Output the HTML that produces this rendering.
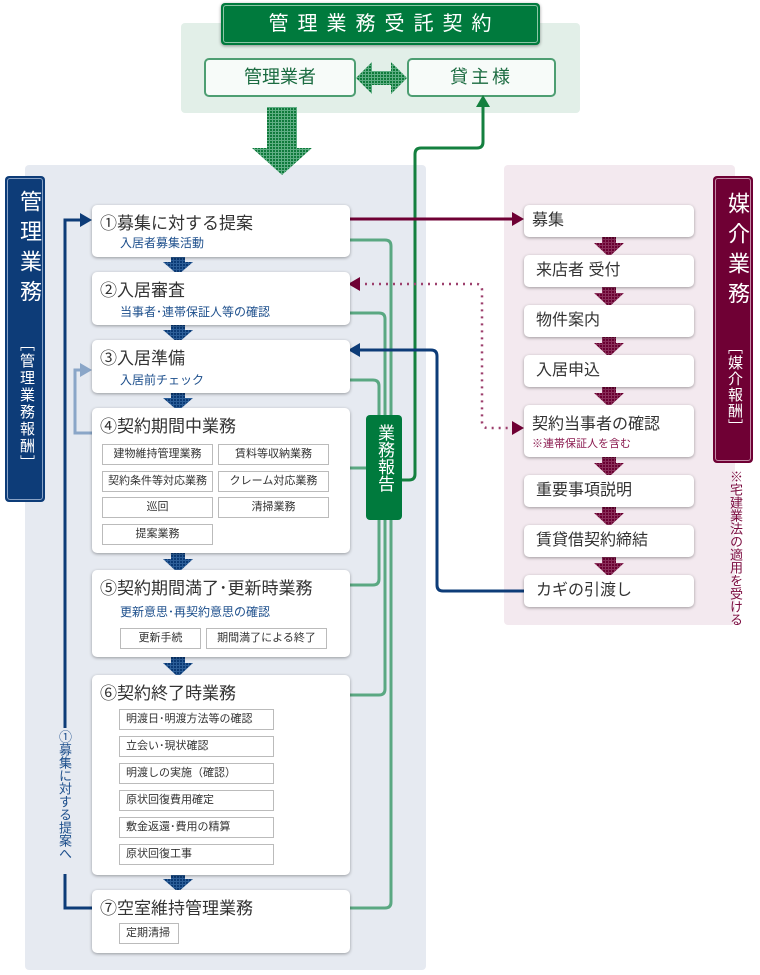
<!DOCTYPE html>
<html><head><meta charset="utf-8"><style>
*{margin:0;padding:0;box-sizing:border-box}
body{width:760px;height:975px;background:#fff;position:relative;overflow:hidden;font-family:"Liberation Sans","Noto Sans CJK JP",sans-serif;color:#333}
.a{position:absolute}
.box{position:absolute;background:#fff;border-radius:5px;box-shadow:0 1px 3px rgba(0,0,0,.35)}
.t{position:absolute;left:8px;top:4px;font-size:17px;white-space:nowrap}
.s{position:absolute;left:28px;font-size:12px;color:#1d4f8c;white-space:nowrap}
.sb{position:absolute;border:1px solid #bbb;background:#fff;font-size:11px;text-align:center;line-height:19px;white-space:nowrap}
.sl{text-align:left;padding-left:6px}
.rb{position:absolute;left:524px;width:170px;background:#fff;border-radius:5px;box-shadow:0 1px 3px rgba(0,0,0,.35);font-size:16px;padding-left:12px;line-height:32px}
.v{writing-mode:vertical-rl;text-orientation:upright}
</style></head><body>
<div class="a" style="left:181px;top:23px;width:399px;height:90px;background:#e2efe8;border-radius:4px"></div>
<div class="a" style="left:25px;top:165px;width:401px;height:805px;background:#e6eaf1;border-radius:4px"></div>
<div class="a" style="left:504px;top:165px;width:231px;height:460px;background:#f3e9ef;border-radius:4px"></div>

<div class="a" style="left:221px;top:3px;width:319px;height:42px;background:#007a3d;border-radius:4px;box-shadow:0 1px 3px rgba(0,0,0,.4)"><div style="position:absolute;inset:2px;border:1px solid #8cc6a6;border-radius:3px;color:#fff;font-size:20px;text-align:center;line-height:36px;letter-spacing:9px;padding-left:8px">管理業務受託契約</div></div>
<div class="a" style="left:204px;top:58px;width:152px;height:39px;background:#f7fbf9;border:2px solid #4d9e72;border-radius:5px;color:#1a6b40;font-size:18px;text-align:center;line-height:35px">管理業者</div>
<div class="a" style="left:407px;top:58px;width:149px;height:39px;background:#f7fbf9;border:2px solid #4d9e72;border-radius:5px;color:#1a6b40;font-size:18px;text-align:center;line-height:35px;letter-spacing:3px">貸主様</div>

<div class="a" style="left:5px;top:176px;width:40px;height:326px;background:#0d3c78;border-radius:4px"><div style="position:absolute;inset:2px;border:1px solid #8aa3c6;border-radius:3px"></div>
<div class="a v" style="left:8px;top:14px;color:#fff;font-size:22px;letter-spacing:8px">管理業務</div>
<div class="a v" style="left:11px;top:160px;color:#fff;font-size:15px;letter-spacing:2px">［管理業務報酬］</div></div>
<div class="a" style="left:713px;top:176px;width:40px;height:287px;background:#6f0034;border-radius:4px"><div style="position:absolute;inset:2px;border:1px solid #c28aa5;border-radius:3px"></div>
<div class="a v" style="left:8px;top:16px;color:#fff;font-size:22px;letter-spacing:8px">媒介業務</div>
<div class="a v" style="left:11px;top:163px;color:#fff;font-size:15px;letter-spacing:1px">［媒介報酬］</div></div>
<div class="a v" style="left:727px;top:470px;color:#7a0a3e;font-size:13px;line-height:16px">※宅建業法の適用を受ける</div>

<svg class="a" style="left:0;top:0" width="760" height="975">
<defs>
<pattern id="dg" width="3" height="3" patternUnits="userSpaceOnUse"><rect width="3" height="3" fill="#5fae84"/><rect width="2" height="2" fill="#0f7a3b"/></pattern>
<pattern id="db" width="3" height="3" patternUnits="userSpaceOnUse"><rect width="3" height="3" fill="#2d5f99"/><rect width="2" height="2" fill="#0b3a75"/></pattern>
<pattern id="dm" width="3" height="3" patternUnits="userSpaceOnUse"><rect width="3" height="3" fill="#8a2f5a"/><rect width="2" height="2" fill="#6a0031"/></pattern>
</defs>
<polygon points="356,78 372,62 372,71 391,71 391,62 407,78 391,94 391,85 372,85 372,94" fill="url(#dg)"/>
<polygon points="267,107 297,107 297,148 312,148 282,175 252,148 267,148" fill="url(#dg)"/>
<g fill="none" stroke-width="3">
<path d="M350,240 H385 q6,0 6,6 V902 q0,6 -6,6 H350" stroke="#5aa882"/>
<path d="M350,313 H379 q6,0 6,6 V689 q0,6 -6,6 H350" stroke="#5aa882"/>
<path d="M350,380 H373 q6,0 6,6 V579 q0,6 -6,6 H350" stroke="#5aa882"/>
<path d="M350,468 H370" stroke="#5aa882"/>
<path d="M402,480 H409 q6,0 6,-6 V154 q0,-6 6,-6 H477 q6,0 6,-6 V106" stroke="#14803f"/>
<path d="M350,219 H516" stroke="#6f0034"/>
<path d="M358,284 H476 q6,0 6,6 V422 q0,6 6,6 H516" stroke="#9c3f6c" stroke-dasharray="2,5" stroke-width="2.5"/>
<path d="M524,591 H443 q-6,0 -6,-6 V356 q0,-6 -6,-6 H358" stroke="#0d3c78"/>
<path d="M92,908 H65 V220 H84" stroke="#0d3c78"/>
<path d="M92,433 H75 V370 H84" stroke="#8aa6c8"/>
</g>
<polygon points="483,95 476,107 490,107" fill="#14803f"/>
<polygon points="524,219 512,212 512,226" fill="#6f0034"/>
<polygon points="524,428 512,421 512,435" fill="#6f0034"/>
<polygon points="348,284 360,277 360,291" fill="#6f0034"/>
<polygon points="348,350 360,343 360,357" fill="#0d3c78"/>
<polygon points="92,220 80,213 80,227" fill="#0d3c78"/>
<polygon points="92,370 80,363 80,377" fill="#8aa6c8"/>
<g fill="url(#db)">
<polygon points="171,254 185,254 185,262 193,262 178,275 163,262 171,262"/>
<polygon points="171,322 185,322 185,330 193,330 178,343 163,330 171,330"/>
<polygon points="171,390 185,390 185,398 193,398 178,411 163,398 171,398"/>
<polygon points="171,550 185,550 185,559 193,559 178,573 163,559 171,559"/>
<polygon points="171,654 185,654 185,663 193,663 178,677 163,663 171,663"/>
<polygon points="171,871 185,871 185,879 193,879 178,892 163,879 171,879"/>
</g>
<g fill="url(#dm)">
<polygon points="602,235 616,235 616,243 624,243 609,257 594,243 602,243"/>
<polygon points="602,285 616,285 616,293 624,293 609,307 594,293 602,293"/>
<polygon points="602,335 616,335 616,343 624,343 609,357 594,343 602,343"/>
<polygon points="602,385 616,385 616,393 624,393 609,407 594,393 602,393"/>
<polygon points="602,455 616,455 616,463 624,463 609,477 594,463 602,463"/>
<polygon points="602,505 616,505 616,513 624,513 609,527 594,513 602,513"/>
<polygon points="602,555 616,555 616,563 624,563 609,577 594,563 602,563"/>
</g>
<polygon points="137,622 143,622 143,626 147,626 140,631 133,626 137,626" fill="#999"/>
<polygon points="215,622 221,622 221,626 225,626 218,631 211,626 215,626" fill="#999"/>
</svg>

<div class="a" style="left:58px;top:728px;width:14px;height:146px;background:#e6eaf1"></div>
<div class="a v" style="left:56px;top:730px;color:#1d4f8c;font-size:13px;line-height:16px">①募集に対する提案へ</div>

<div class="a" style="left:366px;top:415px;width:36px;height:105px;background:#007a3d;border-radius:4px"></div>
<div class="a v" style="left:374px;top:424px;color:#fff;font-size:17px;line-height:20px">業務報告</div>

<div class="box" style="left:92px;top:205px;width:258px;height:52px"><div class="t">①募集に対する提案</div><div class="s" style="top:29px">入居者募集活動</div></div>
<div class="box" style="left:92px;top:272px;width:258px;height:53px"><div class="t">②入居審査</div><div class="s" style="top:31px">当事者･連帯保証人等の確認</div></div>
<div class="box" style="left:92px;top:340px;width:258px;height:53px"><div class="t">③入居準備</div><div class="s" style="top:31px">入居前チェック</div></div>
<div class="box" style="left:92px;top:408px;width:258px;height:145px"><div class="t">④契約期間中業務</div></div>
<div class="sb" style="left:102px;top:444px;width:111px;height:21px">建物維持管理業務</div>
<div class="sb" style="left:218px;top:444px;width:111px;height:21px">賃料等収納業務</div>
<div class="sb" style="left:102px;top:471px;width:111px;height:21px">契約条件等対応業務</div>
<div class="sb" style="left:218px;top:471px;width:111px;height:21px">クレーム対応業務</div>
<div class="sb" style="left:102px;top:497px;width:111px;height:21px">巡回</div>
<div class="sb" style="left:218px;top:497px;width:111px;height:21px">清掃業務</div>
<div class="sb" style="left:102px;top:524px;width:111px;height:21px">提案業務</div>

<div class="box" style="left:92px;top:570px;width:258px;height:87px"><div class="t">⑤契約期間満了･更新時業務</div><div class="s" style="top:33px;left:28px">更新意思･再契約意思の確認</div></div>
<div class="sb" style="left:120px;top:628px;width:81px;height:21px">更新手続</div>
<div class="sb" style="left:206px;top:628px;width:121px;height:21px">期間満了による終了</div>

<div class="box" style="left:92px;top:675px;width:258px;height:200px"><div class="t">⑥契約終了時業務</div></div>
<div class="sb sl" style="left:119px;top:709px;width:155px;height:21px">明渡日･明渡方法等の確認</div>
<div class="sb sl" style="left:119px;top:736px;width:155px;height:21px">立会い･現状確認</div>
<div class="sb sl" style="left:119px;top:763px;width:155px;height:21px">明渡しの実施（確認）</div>
<div class="sb sl" style="left:119px;top:790px;width:155px;height:21px">原状回復費用確定</div>
<div class="sb sl" style="left:119px;top:817px;width:155px;height:21px">敷金返還･費用の精算</div>
<div class="sb sl" style="left:119px;top:844px;width:155px;height:21px">原状回復工事</div>

<div class="box" style="left:92px;top:890px;width:258px;height:63px"><div class="t">⑦空室維持管理業務</div></div>
<div class="sb sl" style="left:119px;top:923px;width:60px;height:21px">定期清掃</div>

<div class="rb" style="top:205px;height:32px;padding-left:8px">募集</div>
<div class="rb" style="top:255px;height:32px">来店者 受付</div>
<div class="rb" style="top:305px;height:32px">物件案内</div>
<div class="rb" style="top:355px;height:32px">入居申込</div>
<div class="rb" style="top:405px;height:52px;padding-left:8px;line-height:normal"><div style="margin-top:5px">契約当事者の確認</div><div style="font-size:11px;color:#8b1a4f;margin-top:1px">※連帯保証人を含む</div></div>
<div class="rb" style="top:475px;height:32px">重要事項説明</div>
<div class="rb" style="top:525px;height:32px">賃貸借契約締結</div>
<div class="rb" style="top:575px;height:32px">カギの引渡し</div>
</body></html>
